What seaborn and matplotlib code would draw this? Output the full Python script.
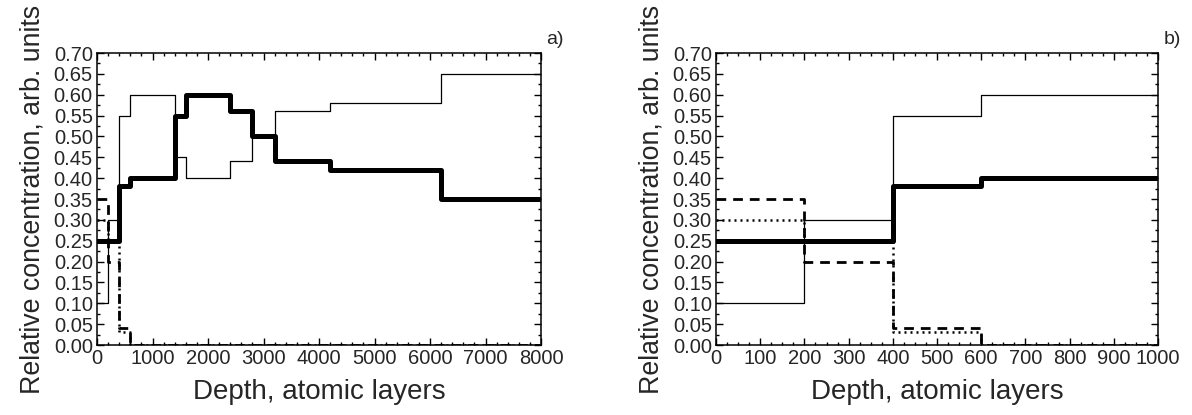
import matplotlib
matplotlib.use("Agg")
import matplotlib.pyplot as plt
import seaborn as sns
import pandas as pd
from matplotlib.ticker import MultipleLocator, FormatStrFormatter

# Step profiles (value holds from x[i] to x[i+1])
thick_x = [0, 400, 600, 1400, 1600, 2400, 2800, 3200, 4200, 6200, 8000]
thick_y = [0.25, 0.38, 0.40, 0.55, 0.60, 0.56, 0.50, 0.44, 0.42, 0.35, 0.35]

thin_x = [0, 200, 400, 600, 1400, 1600, 2400, 2800, 3200, 4200, 6200, 8000]
thin_y = [0.10, 0.30, 0.55, 0.60, 0.45, 0.40, 0.44, 0.50, 0.56, 0.58, 0.65, 0.65]

dash_x = [0, 200, 400, 600, 8000]
dash_y = [0.35, 0.20, 0.04, 0.00, 0.00]

dot_x = [0, 200, 400, 600, 8000]
dot_y = [0.30, 0.25, 0.03, 0.00, 0.00]

x_label = "Depth, atomic layers"
y_label = "Relative concentration, arb. units"
panel_labels = ["a)", "b)"]
xlims = [8000, 1000]

sns.set_style("ticks")
plt.rcParams["font.family"] = ["Liberation Sans", "DejaVu Sans"]

fig = plt.figure(figsize=(11.92, 4.15), dpi=100)
ax_a = fig.add_axes([97/1192, 70/415, 444/1192, 292/415])
ax_b = fig.add_axes([716/1192, 70/415, 442/1192, 292/415])

series = [
    (thin_x, thin_y, dict(lw=0.9, ls="-")),
    (dash_x, dash_y, dict(lw=2.0, ls=(0, (3.5, 2.5)))),
    (dot_x, dot_y, dict(lw=1.8, ls=(0, (0.8, 1.6)))),
    (thick_x, thick_y, dict(lw=3.6, ls="-")),
]

for ax, xmax, lab, lx in zip([ax_a, ax_b], xlims, panel_labels, [555/1192, 1172/1192]):
    for xs, ys, st in series:
        df = pd.DataFrame({"x": xs, "y": ys})
        sns.lineplot(data=df, x="x", y="y", ax=ax, color="black",
                     drawstyle="steps-post", estimator=None, sort=False,
                     linewidth=st["lw"], linestyle=st["ls"])
    ax.set_xlim(0, xmax)
    ax.set_ylim(0, 0.70)
    if xmax == 8000:
        ax.xaxis.set_major_locator(MultipleLocator(1000))
        ax.xaxis.set_minor_locator(MultipleLocator(200))
    else:
        ax.xaxis.set_major_locator(MultipleLocator(100))
        ax.xaxis.set_minor_locator(MultipleLocator(25))
    ax.yaxis.set_major_locator(MultipleLocator(0.05))
    ax.yaxis.set_minor_locator(MultipleLocator(0.025))
    ax.yaxis.set_major_formatter(FormatStrFormatter("%.2f"))
    ax.tick_params(which="both", direction="in", top=True, right=True,
                   labelsize=14.5, color="black")
    ax.tick_params(which="major", length=5, width=1, pad=3)
    ax.tick_params(which="minor", length=2.5, width=1)
    for s in ax.spines.values():
        s.set_linewidth(1.1)
        s.set_color("black")
    ax.set_xlabel(x_label, fontsize=20, labelpad=8)
    ax.set_ylabel(y_label, fontsize=19.3, labelpad=6)
    fig.text(lx, 1 - 40/415, lab, fontsize=14, ha="center", va="center")

fig.savefig("out.png", dpi=100)
